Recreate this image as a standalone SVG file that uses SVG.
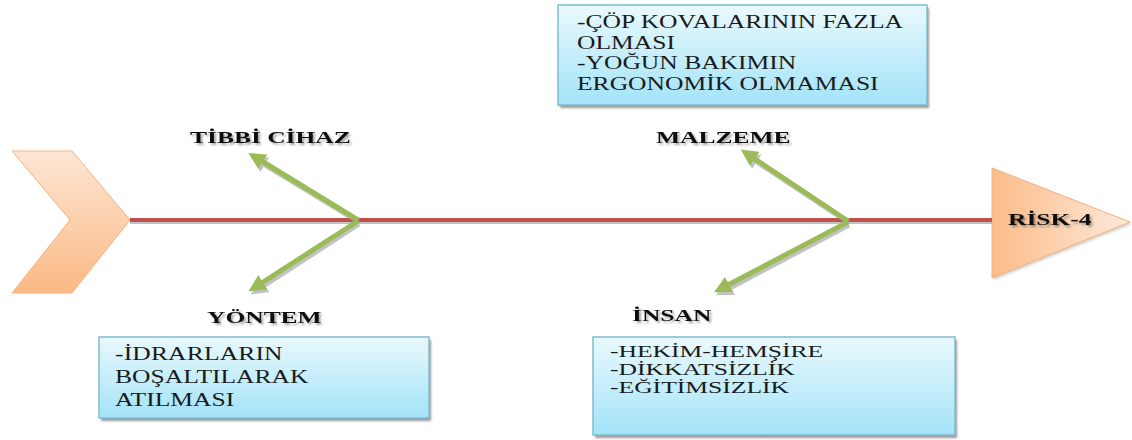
<svg xmlns="http://www.w3.org/2000/svg" width="1132" height="440" viewBox="0 0 1132 440">
<defs>
<linearGradient id="gBox" x1="0" y1="0" x2="0" y2="1">
<stop offset="0" stop-color="#e9f9fd"/>
<stop offset="1" stop-color="#a3e3f8"/>
</linearGradient>
<linearGradient id="gChev" x1="0" y1="0" x2="0" y2="1">
<stop offset="0" stop-color="#fde6d4"/>
<stop offset="1" stop-color="#fbb985"/>
</linearGradient>
<linearGradient id="gTri" x1="0" y1="0" x2="1" y2="0">
<stop offset="0" stop-color="#fbbc88"/>
<stop offset="1" stop-color="#fde9db"/>
</linearGradient>
<marker id="ah" viewBox="0 0 10 10" refX="2" refY="5" markerWidth="3.4" markerHeight="3.4" orient="auto" markerUnits="strokeWidth">
<path d="M0,0 L10,5 L0,10 Z" fill="#9bbb59"/>
</marker>
<marker id="ahS" viewBox="0 0 10 10" refX="2" refY="5" markerWidth="3.4" markerHeight="3.4" orient="auto" markerUnits="strokeWidth">
<path d="M0,0 L10,5 L0,10 Z" fill="#9a9a9a"/>
</marker>
<filter id="blur" x="-10%" y="-10%" width="120%" height="130%">
<feGaussianBlur stdDeviation="1.2"/>
</filter>
<filter id="tshadow" x="-5%" y="-20%" width="115%" height="150%">
<feGaussianBlur in="SourceAlpha" stdDeviation="0.8"/>
<feOffset dx="1" dy="1.5" result="o"/>
<feComponentTransfer><feFuncA type="linear" slope="0.35"/></feComponentTransfer>
<feMerge><feMergeNode/><feMergeNode in="SourceGraphic"/></feMerge>
</filter>
</defs>
<style>
.box{fill:url(#gBox);stroke:#7fbcd2;stroke-width:1.5}
.shadow{fill:#9a9a9a;filter:url(#blur)}
.lbl{font-family:"Liberation Serif","Times New Roman",serif;font-weight:bold;font-size:17px;fill:#111;filter:url(#tshadow)}
.txt{font-family:"Liberation Serif","Times New Roman",serif;font-size:18px;fill:#1a1a1a}
.txs{font-family:"Liberation Serif","Times New Roman",serif;font-size:16px;fill:#1a1a1a}
.bone{stroke:#9bbb59;stroke-width:5;fill:none;marker-end:url(#ah)}
.boneS{stroke:#9a9a9a;stroke-width:5;fill:none;marker-end:url(#ahS);opacity:0.6}
</style>
<rect width="1132" height="440" fill="#ffffff"/>

<g id="head">
<polygon points="994,170 1132,224 994,280" fill="#aaa" opacity="0.5" filter="url(#blur)"/>
<polygon points="992,168 1130,222 992,278" fill="url(#gTri)" stroke="#f5b07a" stroke-width="1"/>
<text class="lbl" transform="translate(1008 225) scale(1.5 1)">RİSK-4</text>
</g>

<g id="tail">
<polygon points="12,151 72,151 130,220 72,293 12,293 70,220" fill="url(#gChev)" stroke="#f7b27e" stroke-width="1"/>
</g>

<g id="connectors">
<line x1="130" y1="222" x2="992" y2="222" stroke="#9a9a9a" stroke-width="4" opacity="0.6"/>
<line x1="130" y1="220" x2="992" y2="220" stroke="#c0504d" stroke-width="4"/>
<line class="boneS" x1="359" y1="222" x2="262" y2="163"/>
<line class="boneS" x1="359" y1="224" x2="262" y2="287"/>
<line class="boneS" x1="849" y1="223" x2="754" y2="160"/>
<line class="boneS" x1="849" y1="225" x2="728" y2="289"/>
<line class="bone" x1="358" y1="220" x2="260" y2="160"/>
<line class="bone" x1="358" y1="221" x2="260" y2="284"/>
<line class="bone" x1="848" y1="221" x2="752" y2="157"/>
<line class="bone" x1="848" y1="222" x2="726" y2="286"/>
</g>

<g id="tibbi-cihaz">
<text class="lbl" transform="translate(190 143) scale(1.5 1)">TİBBİ CİHAZ</text>
</g>

<g id="malzeme">
<text class="lbl" transform="translate(656 143) scale(1.5 1)">MALZEME</text>
<rect class="shadow" x="560" y="8" width="369" height="100"/>
<rect class="box" x="558" y="5" width="369" height="100"/>
<text class="txt" transform="translate(577 28) scale(1.42 1)">-ÇÖP KOVALARININ FAZLA</text>
<text class="txt" transform="translate(577 49) scale(1.42 1)">OLMASI</text>
<text class="txt" transform="translate(577 69) scale(1.42 1)">-YOĞUN BAKIMIN</text>
<text class="txt" transform="translate(577 90) scale(1.42 1)">ERGONOMİK OLMAMASI</text>
</g>

<g id="yontem">
<text class="lbl" transform="translate(207 323) scale(1.5 1)">YÖNTEM</text>
<rect class="shadow" x="101" y="340" width="330" height="81"/>
<rect class="box" x="99" y="337" width="330" height="81"/>
<text class="txt" transform="translate(115 360) scale(1.42 1)" textLength="118" lengthAdjust="spacing">-İDRARLARIN</text>
<text class="txt" transform="translate(115 383) scale(1.42 1)">BOŞALTILARAK</text>
<text class="txt" transform="translate(115 406) scale(1.42 1)">ATILMASI</text>
</g>

<g id="insan">
<text class="lbl" transform="translate(632 321) scale(1.5 1)">İNSAN</text>
<rect class="shadow" x="595" y="340" width="362" height="98"/>
<rect class="box" x="593" y="337" width="362" height="98"/>
<text class="txs" transform="translate(610 357) scale(1.6 1)">-HEKİM-HEMŞİRE</text>
<text class="txs" transform="translate(610 375) scale(1.6 1)">-DİKKATSİZLİK</text>
<text class="txs" transform="translate(610 393) scale(1.6 1)">-EĞİTİMSİZLİK</text>
</g>
</svg>
